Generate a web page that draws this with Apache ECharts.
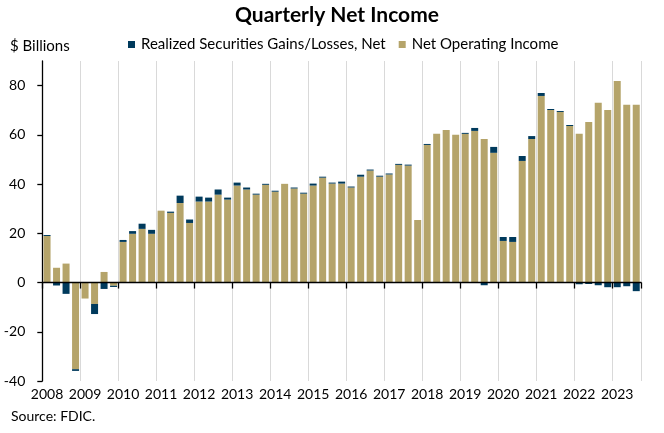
<!DOCTYPE html>
<html>
<head>
<meta charset="utf-8">
<script src="https://cdn.jsdelivr.net/npm/echarts@6/dist/echarts.min.js"></script>
<style>
html,body{margin:0;padding:0;background:#fff;}
#chart{width:664px;height:433px;}
</style>
</head>
<body>
<div id="chart"></div>
<script>
// Quarters 2008Q1 .. 2023Q3
var years = ['2008','2009','2010','2011','2012','2013','2014','2015','2016','2017','2018','2019','2020','2021','2022','2023'];
var quarters = [];
years.forEach(function (y) { ['Q1','Q2','Q3','Q4'].forEach(function (q) { quarters.push(y + q); }); });
quarters = quarters.slice(0, 63);

var netOperatingIncome = [
  18.9, 6.0, 7.7, -35.2,
  -6.5, -8.7, 4.3, -1.3,
  16.5, 19.8, 21.8, 19.8,
  29.2, 28.3, 32.3, 24.2,
  32.9, 32.9, 35.7, 33.7,
  39.4, 37.8, 35.7, 39.7,
  36.9, 40.1, 38.2, 36.1,
  39.4, 42.6, 40.2, 40.2,
  38.6, 43.0, 45.5, 43.0,
  43.9, 47.8, 47.5, 25.4,
  55.9, 60.4, 62.0, 60.0,
  60.4, 61.6, 58.3, 52.7,
  16.9, 16.5, 49.4, 58.3,
  75.8, 70.1, 69.3, 63.6,
  60.4, 65.2, 73.0, 70.1,
  81.9, 72.2, 72.2
];
var realizedGains = [
  0.4, -1.2, -4.6, -0.7,
  0, -4.1, -2.6, -0.5,
  0.8, 1.1, 2.1, 1.6,
  0, 0.5, 3.0, 1.4,
  2.0, 1.6, 2.1, 0.8,
  1.2, 0.8, 0.4, 0.4,
  0.4, 0, 0.4, 0.4,
  0.8, 0.4, 0.4, 0.8,
  0.4, 0.8, 0.4, 0.4,
  0.4, 0.4, 0.4, 0,
  0.4, 0, 0, 0,
  0.4, 1.2, -1.1, 2.4,
  1.6, 2.0, 2.0, 1.2,
  1.2, 0.4, 0.4, 0.4,
  -0.7, -0.6, -1.1, -1.9,
  -1.9, -1.5, -3.5
];
var yTicks = [-40, -20, 0, 20, 40, 60, 80];

var FONT = 'Lato';
var chart = echarts.init(document.getElementById('chart'), null, {renderer: 'canvas'});
chart.setOption({
  animation: false,
  backgroundColor: '#fff',
  textStyle: {fontFamily: FONT, color: '#000'},
  title: {
    text: 'Quarterly Net Income',
    left: 230, top: 0,
    textStyle: {fontFamily: FONT, fontSize: 21, fontWeight: 'bold', color: '#000'}
  },
  legend: {
    data: ['Realized Securities Gains/Losses, Net', 'Net Operating Income'],
    left: 123, top: 32,
    itemWidth: 7, itemHeight: 7, itemGap: 13,
    icon: 'rect',
    textStyle: {fontFamily: FONT, fontSize: 15, color: '#000', padding: [0, 0, 0, 1]}
  },
  graphic: [
    {type: 'text', left: 10, top: 39, style: {text: '$ Billions', fontFamily: FONT, fontSize: 15, fill: '#000'}},
    {type: 'text', left: 11, top: 409, style: {text: 'Source: FDIC.', fontFamily: FONT, fontSize: 14, fill: '#000'}}
  ],
  grid: {left: 42.3, right: 23, top: 61, bottom: 52, containLabel: false},
  xAxis: [
    {
      type: 'category', data: quarters, position: 'bottom',
      axisLine: {show: false, onZero: false},
      axisTick: {show: false},
      axisLabel: {
        interval: 3, margin: 6, fontFamily: FONT, fontSize: 14, color: '#000',
        formatter: function (v) { return v.slice(0, 4); }
      },
      splitLine: {show: true, interval: 3, lineStyle: {color: '#d9d9d9', width: 1}}
    },
    {
      type: 'category', data: quarters, position: 'bottom', z: 10,
      axisLine: {show: true, onZero: true, lineStyle: {color: '#000', width: 1.3}},
      axisTick: {show: true, interval: 3, length: 6, lineStyle: {color: '#000', width: 1.3}},
      axisLabel: {show: false},
      splitLine: {show: false}
    }
  ],
  yAxis: {
    type: 'value', min: -40, max: 90, interval: 20,
    axisLine: {show: true, lineStyle: {color: '#000', width: 1.3}},
    axisTick: {show: true, length: 5, customValues: yTicks, lineStyle: {color: '#000', width: 1.3}},
    axisLabel: {customValues: yTicks, margin: 17, fontFamily: FONT, fontSize: 14, color: '#000'},
    splitLine: {show: false}
  },
  series: [
    {
      name: 'Net Operating Income', type: 'bar', stack: 'total', data: netOperatingIncome,
      barWidth: 7, itemStyle: {color: '#b5a46a'}
    },
    {
      name: 'Realized Securities Gains/Losses, Net', type: 'bar', stack: 'total', data: realizedGains,
      barWidth: 7, itemStyle: {color: '#003a5c'}
    }
  ]
});
</script>
</body>
</html>
